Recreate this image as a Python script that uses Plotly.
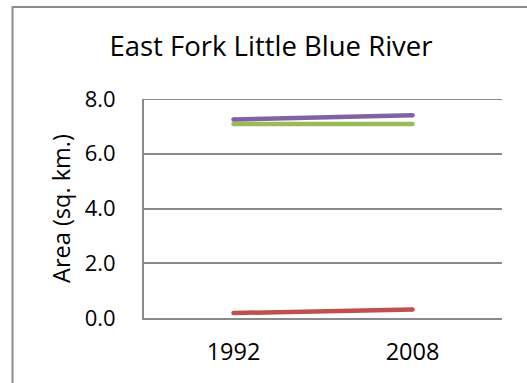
import plotly.graph_objects as go

# Chart data
years = ["1992", "2008"]
series_names = ["Series A", "Series B", "Series C"]
series_values = [
    [0.18, 0.31],
    [7.09, 7.09],
    [7.25, 7.41],
]
series_colors = ["#C0504D", "#9BBB59", "#8064A2"]
y_ticks = [0.0, 2.0, 4.0, 6.0, 8.0]

W, H = 527, 383
L, R, T, B = 144, 25, 98.5, 64.5
pw, ph = W - L - R, H - T - B

fig = go.Figure()
for name, vals, col in zip(series_names, series_values, series_colors):
    # small round markers at the ends give the lines rounded caps
    fig.add_trace(go.Scatter(
        x=years, y=vals, name=name, mode="lines+markers",
        line=dict(color=col, width=4.5),
        marker=dict(color=col, size=4.5, line=dict(width=0)),
        hoverinfo="x+y+name",
    ))

font = "Open Sans, Noto Sans, sans-serif"
grid = "#8a8a8a"

# outer chart frame (pixel positions converted to paper coords)
def px_x(p):
    return (p - L) / pw

def px_y(p):
    return (H - B - p) / ph

fig.add_shape(type="rect", xref="paper", yref="paper",
              x0=px_x(12.5), x1=px_x(700), y0=px_y(700), y1=px_y(6),
              line=dict(color="#8c8c8c", width=2), fillcolor="rgba(0,0,0,0)",
              layer="below")

# gridline at the top of the value range
fig.add_shape(type="line", xref="paper", yref="y",
              x0=0, x1=1, y0=y_ticks[-1], y1=y_ticks[-1],
              line=dict(color=grid, width=2), layer="below")

fig.update_layout(
    width=W, height=H,
    margin=dict(l=L, r=R, t=T, b=B, pad=0),
    paper_bgcolor="white", plot_bgcolor="white",
    showlegend=False,
    title=dict(text="East Fork Little Blue River",
               font=dict(family=font, size=27.5, color="#000000"),
               x=271 / W, xanchor="center",
               y=1 - 46 / H, yanchor="middle"),
    xaxis=dict(
        type="category", range=[-0.5, 1.5],
        showgrid=False, showline=True, linecolor=grid, linewidth=2,
        ticks="", tickfont=dict(family=font, size=23.5, color="#000000"),
        ticklabelstandoff=12,
    ),
    yaxis=dict(
        range=[0, 8], tickvals=y_ticks, ticktext=[f"{v:.1f}" for v in y_ticks],
        showgrid=True, gridcolor=grid, gridwidth=2,
        showline=True, linecolor=grid, linewidth=2,
        zeroline=False, ticks="",
        tickfont=dict(family=font, size=22, color="#000000"),
        ticklabelstandoff=22,
        title=dict(text="Area (sq. km.)", standoff=7,
                   font=dict(family=font, size=23.5, color="#000000")),
    ),
)

fig.write_html("out.html")
